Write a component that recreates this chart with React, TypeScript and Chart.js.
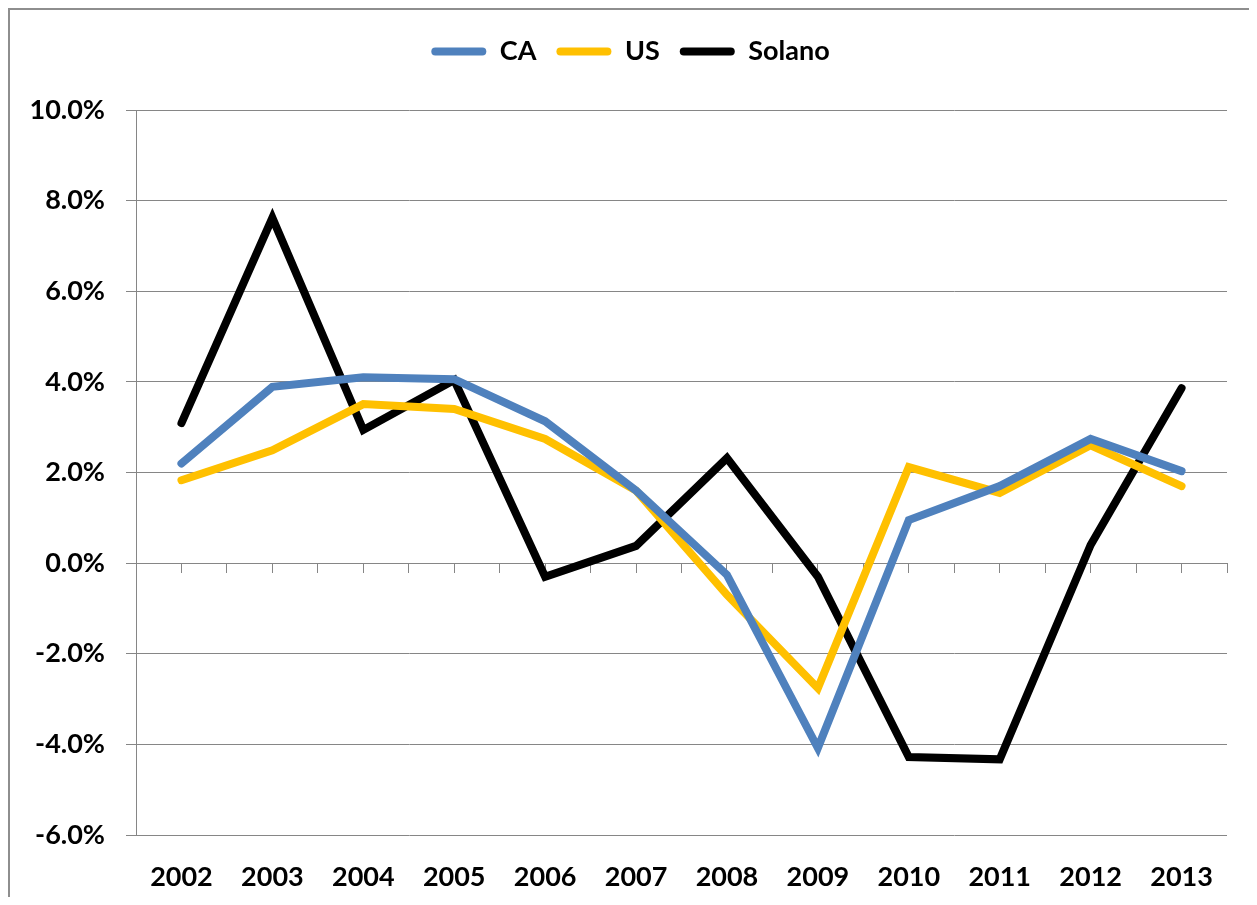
import React, { useEffect, useRef } from "react";
import { Chart, registerables } from "chart.js";

Chart.register(...registerables);

const years = ["2002", "2003", "2004", "2005", "2006", "2007", "2008", "2009", "2010", "2011", "2012", "2013"];
const caValues = [2.2, 3.89, 4.1, 4.06, 3.13, 1.6, -0.26, -4.08, 0.95, 1.7, 2.74, 2.03];
const usValues = [1.83, 2.49, 3.51, 3.4, 2.74, 1.6, -0.7, -2.76, 2.12, 1.55, 2.6, 1.7];
const solanoValues = [3.09, 7.62, 2.94, 4.04, -0.3, 0.38, 2.32, -0.3, -4.28, -4.33, 0.4, 3.86];
const seriesNames = ["CA", "US", "Solano"];
const seriesColors = ["#4F81BD", "#FFC000", "#000000"];
const yMin = -6;
const yMax = 10;
const yStep = 2;

const FONT = "Lato, 'Open Sans', sans-serif";
const GRID = "#868686";
const FS = 27;

export default function App() {
  const ref = useRef<HTMLCanvasElement | null>(null);

  useEffect(() => {
    if (!ref.current) return;
    const mk = (i: number, data: number[]) => ({
      label: seriesNames[i],
      data,
      xAxisID: "x",
      yAxisID: "y",
      borderColor: seriesColors[i],
      backgroundColor: seriesColors[i],
      borderWidth: 8,
      borderCapStyle: "round" as const,
      borderJoinStyle: "miter" as const,
      pointRadius: 0,
      pointHoverRadius: 0,
      tension: 0,
      fill: false,
    });
    const hiddenAxis = (pos: string, size: number) => ({
      type: "linear",
      position: pos,
      min: 0,
      max: 1,
      grid: { display: false, drawTicks: false },
      border: { display: false },
      ticks: { display: false },
      afterFit: (s: any) => {
        if (pos === "top") s.height = size;
        else s.width = size;
      },
    });
    const chart = new Chart(ref.current, {
      type: "line",
      data: {
        labels: years,
        datasets: [mk(0, caValues), mk(1, usValues), mk(2, solanoValues)],
      },
      options: {
        animation: false,
        responsive: false,
        events: [],
        layout: { padding: { top: 8, left: 0, right: 0, bottom: 0 } },
        plugins: {
          tooltip: { enabled: false },
          legend: {
            position: "top",
            align: "center",
            labels: {
              boxWidth: 55,
              boxHeight: 8,
              padding: 20,
              color: "#000",
              font: { family: FONT, size: FS, weight: "bold" },
              generateLabels: () =>
                seriesNames.map((n, i) => ({
                  text: n,
                  fillStyle: seriesColors[i],
                  strokeStyle: seriesColors[i],
                  lineWidth: 0,
                  fontColor: "#000",
                  hidden: false,
                  datasetIndex: i,
                  borderRadius: 4,
                })),
              useBorderRadius: true,
              borderRadius: 4,
            },
          },
          title: { display: false },
        },
        scales: {
          x: {
            type: "category",
            offset: true,
            grid: { display: false, drawTicks: false },
            border: { display: false },
            ticks: {
              color: "#000",
              padding: 26,
              maxRotation: 0,
              autoSkip: false,
              font: { family: FONT, size: FS, weight: "bold" },
            },
            afterFit: (s: any) => {
              s.height = 62;
            },
          },
          y: {
            type: "linear",
            position: "left",
            min: yMin,
            max: yMax,
            grid: { color: GRID, lineWidth: 1, tickLength: 10, drawTicks: true },
            border: { display: true, color: GRID, width: 1 },
            ticks: {
              stepSize: yStep,
              color: "#000",
              padding: 21,
              font: { family: FONT, size: FS, weight: "bold" },
              callback: (v: any) => Number(v).toFixed(1) + "%",
            },
            afterFit: (s: any) => {
              s.width = 126;
            },
          },
          xs: hiddenAxis("top", 35),
          yr: hiddenAxis("right", 24),
          x2: {
            type: "linear",
            position: { y: 0 },
            min: 0,
            max: years.length * 2,
            grid: { drawOnChartArea: false, drawTicks: true, tickLength: 9, color: GRID, lineWidth: 1 },
            border: { display: true, color: GRID, width: 1 },
            ticks: { display: false, stepSize: 1, autoSkip: false },
          },
        },
      } as any,
    });
    return () => chart.destroy();
  }, []);

  return (
    <div
      style={{
        position: "relative",
        boxSizing: "border-box",
        width: 1245,
        height: 889,
        borderTop: "2px solid #8e8e8e",
        borderLeft: "2px solid #8e8e8e",
        borderRight: "2px solid #8e8e8e",
        background: "#fff",
        overflow: "hidden",
      }}
    >
      <canvas ref={ref} width={1241} height={887} style={{ display: "block" }} />
    </div>
  );
}
